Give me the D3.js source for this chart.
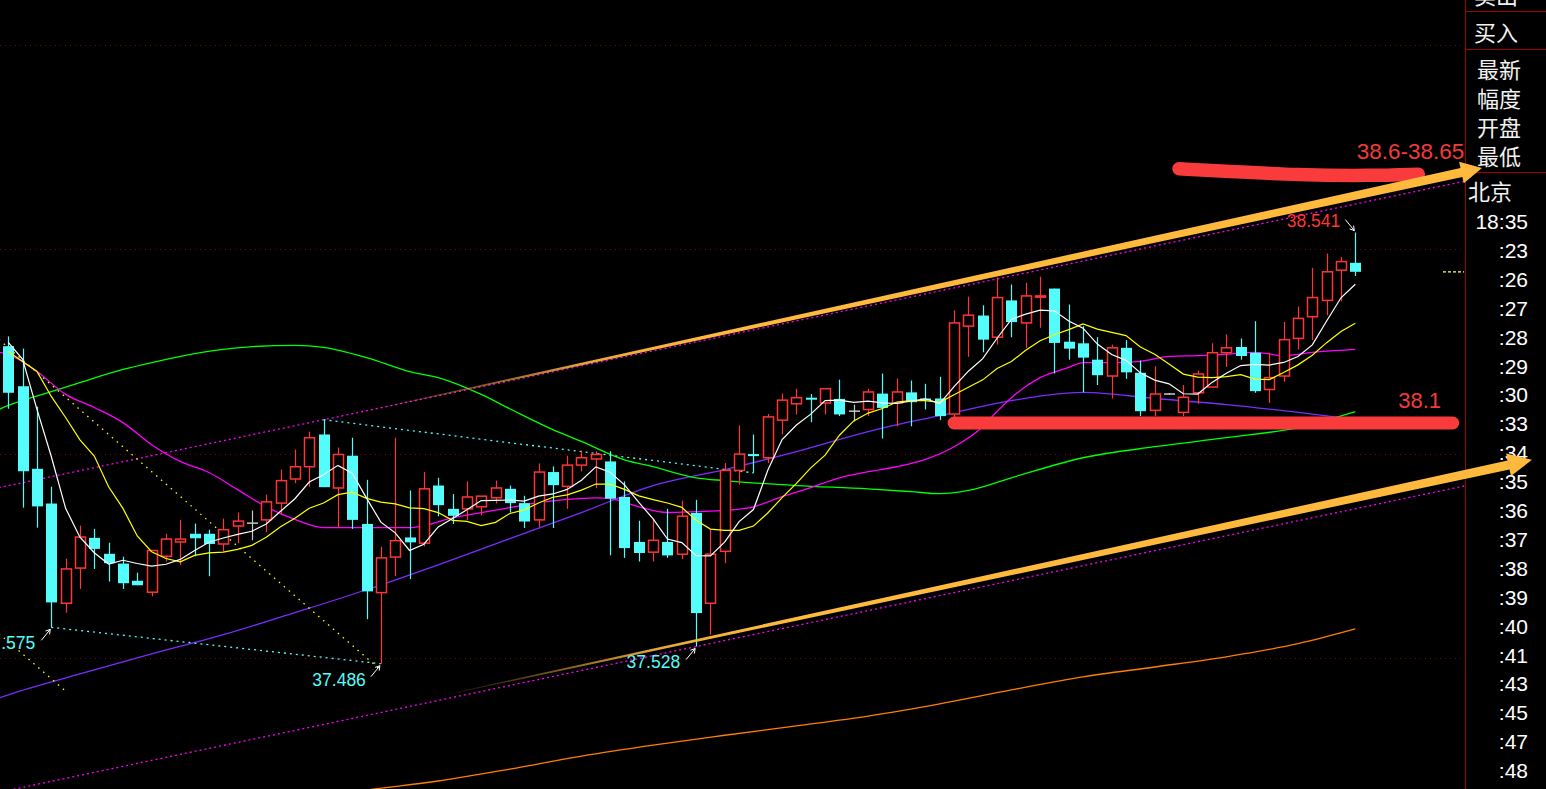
<!DOCTYPE html>
<html><head><meta charset="utf-8">
<script src="https://cdn.jsdelivr.net/npm/d3@7"></script>
<style>html,body{margin:0;padding:0;background:#000;overflow:hidden;}svg{display:block;}</style>
</head><body>
<svg id="c" width="1546" height="789"></svg>
<script>
// ---------- data (prices) ----------
const open  = [38.263,38.165,37.963,37.878,37.634,37.720,37.794,37.755,37.731,37.689,37.661,37.749,37.784,37.804,37.804,37.779,37.823,37.830,37.838,37.879,37.938,37.968,38.047,37.916,37.995,37.828,37.660,37.747,37.795,37.781,37.922,37.865,37.865,37.870,37.892,37.914,37.879,37.838,37.955,37.920,37.972,37.987,37.981,37.894,37.784,37.759,37.784,37.754,37.855,37.634,37.761,37.959,37.999,37.990,38.082,38.122,38.137,38.124,38.134,38.104,38.108,38.147,38.124,38.150,38.135,38.135,38.097,38.312,38.338,38.285,38.375,38.320,38.383,38.404,38.274,38.270,38.230,38.190,38.259,38.198,38.106,38.146,38.101,38.149,38.163,38.247,38.261,38.247,38.157,38.190,38.282,38.335,38.375,38.449,38.467];
const high  = [38.287,38.257,38.115,37.919,37.743,37.824,37.816,37.782,37.748,37.709,37.763,37.804,37.838,37.829,37.814,37.841,37.856,37.861,37.900,37.961,38.010,38.054,38.083,38.015,38.039,37.936,37.772,38.039,37.910,37.955,37.941,37.901,37.932,37.896,37.934,37.922,37.897,37.976,37.969,37.995,38.008,38.006,38.006,37.932,37.836,37.840,37.865,37.885,37.887,37.816,37.977,38.069,38.047,38.097,38.147,38.159,38.146,38.159,38.181,38.120,38.159,38.196,38.184,38.179,38.171,38.188,38.351,38.384,38.363,38.431,38.414,38.418,38.433,38.404,38.365,38.312,38.285,38.267,38.278,38.228,38.214,38.148,38.168,38.204,38.270,38.292,38.282,38.324,38.247,38.322,38.360,38.455,38.490,38.481,38.541];
const low   = [38.110,37.868,37.819,37.575,37.611,37.669,37.718,37.687,37.669,37.678,37.651,37.736,37.727,37.749,37.700,37.761,37.781,37.788,37.808,37.851,37.928,37.919,37.918,37.818,37.816,37.595,37.486,37.700,37.693,37.773,37.847,37.828,37.838,37.849,37.878,37.856,37.818,37.821,37.818,37.865,37.957,37.916,37.751,37.745,37.736,37.736,37.745,37.742,37.528,37.557,37.732,37.924,37.953,37.977,38.047,38.096,38.077,38.096,38.092,38.079,38.092,38.037,38.067,38.067,38.108,38.082,38.083,38.237,38.248,38.267,38.285,38.259,38.308,38.196,38.230,38.150,38.168,38.135,38.183,38.092,38.092,38.144,38.092,38.122,38.163,38.212,38.230,38.149,38.124,38.176,38.255,38.278,38.339,38.373,38.435];
const close = [38.149,37.957,37.871,37.636,37.718,37.796,37.767,37.732,37.683,37.678,37.763,37.791,37.791,37.793,37.779,37.814,37.835,37.830,37.882,37.934,37.968,38.039,37.918,37.998,37.838,37.663,37.745,37.787,37.783,37.914,37.874,37.848,37.894,37.896,37.916,37.879,37.834,37.955,37.923,37.972,37.990,37.998,37.890,37.769,37.757,37.788,37.751,37.847,37.610,37.754,37.959,37.999,37.994,38.090,38.131,38.137,38.132,38.159,38.096,38.104,38.151,38.112,38.151,38.126,38.132,38.092,38.320,38.339,38.279,38.382,38.322,38.386,38.386,38.271,38.257,38.235,38.192,38.259,38.199,38.104,38.146,38.146,38.138,38.195,38.247,38.259,38.239,38.153,38.186,38.279,38.331,38.382,38.445,38.470,38.445];
// closes of the 9 bars before the visible window (estimated from the MA5 / MA10 lines)
const prevCloses = [38.202,38.116,38.248,38.233,38.341,38.165,38.484,38.212,38.352];

// longer moving averages: [bar index, price]
const maMagenta = [[-1,38.250],[0,38.243],[2,38.201],[4,38.145],[6,38.113],[8,38.076],[10,38.022],[12,37.981],[14,37.954],[16,37.912],[18,37.870],[20,37.839],[22,37.819],[25,37.819],[28,37.819],[29,37.824],[31,37.843],[33,37.856],[35,37.868],[37,37.880],[39,37.888],[41,37.892],[42,37.890],[44,37.870],[46,37.856],[48,37.858],[50,37.861],[52,37.870],[54,37.895],[56,37.917],[58,37.941],[60,37.956],[62,37.968],[64,37.986],[66,38.017],[68,38.066],[69,38.103],[70,38.137],[72,38.186],[74,38.211],[75,38.223],[77,38.223],[79,38.226],[81,38.238],[83,38.240],[85,38.243],[87,38.248],[89,38.240],[91,38.248],[93,38.253],[94,38.255]];
const maGreen = [[-1,38.103],[0,38.118],[3,38.152],[5,38.174],[8,38.206],[10,38.223],[13,38.245],[15,38.255],[17,38.262],[20,38.265],[22,38.260],[25,38.235],[28,38.201],[30,38.186],[33,38.145],[35,38.110],[38,38.059],[40,38.030],[43,37.985],[45,37.968],[48,37.941],[50,37.934],[55,37.922],[60,37.914],[63,37.907],[65,37.902],[67,37.910],[70,37.941],[75,37.990],[80,38.017],[85,38.039],[90,38.064],[94,38.103]];
const maPurple = [[-1,37.398],[0,37.410],[5,37.461],[10,37.510],[15,37.557],[20,37.611],[25,37.667],[30,37.728],[35,37.792],[40,37.856],[45,37.922],[50,37.961],[55,38.005],[60,38.054],[65,38.093],[70,38.130],[75,38.150],[80,38.135],[85,38.120],[90,38.101],[94,38.084]];
const maOrange = [[18,37.140],[25,37.177],[30,37.199],[35,37.228],[40,37.260],[45,37.287],[50,37.311],[55,37.334],[60,37.358],[65,37.388],[70,37.422],[75,37.454],[80,37.478],[85,37.503],[90,37.535],[94,37.571]];

const gridPrices = [37.5, 38.0, 38.5, 39.0];
const channelSlope = 0.00733;          // price per bar
const panelLabels = ["卖出","买入","最新","幅度","开盘","最低","北京"];
const timeLabels = ["18:35",":23",":26",":27",":28",":29",":30",":33",":34",":35",":36",":37",":38",":39",":40",":41",":43",":45",":47",":48"];
// hand-drawn marks: [bar index, price]
const upperArrow = [[24.33,38.100],[102.84,38.699]];
const lowerArrow = [[29.85,37.405],[106.33,37.985]];
const redStrokeTop = [[81.7,38.697],[85,38.691],[90,38.682],[95,38.680],[98.4,38.684]];
const redStrokeLow = [[66.0,38.075],[100.8,38.075]];
const notes = [{t:"38.6-38.65", i:94.1, p:38.72}, {t:"38.1", i:97.0, p:38.112}];

// ---------- scales ----------
const svg = d3.select('#c');
const PR = 1465.5;
const x = d3.scaleLinear().domain([0,94]).range([8.3,1355.3]);
const y = d3.scaleLinear().domain([37.5,39.0]).range([658,45]);
const NUM = '"Liberation Sans", Arial, sans-serif';
const CJK = '"Noto Sans CJK SC", "Noto Sans", sans-serif';
const CYAN='#54fcfc', RED='#ff3434', MAG='#ff00ff';

svg.append('rect').attr('width',1546).attr('height',789).attr('fill','#000');
const defs = svg.append('defs');
defs.append('clipPath').attr('id','plot').append('rect').attr('x',0).attr('y',0).attr('width',PR).attr('height',789);
const plot = svg.append('g').attr('clip-path','url(#plot)');

// grid
plot.selectAll('line.grid').data(gridPrices).join('line')
  .attr('x1',0).attr('x2',PR).attr('y1',d=>Math.round(y(d))+0.5).attr('y2',d=>Math.round(y(d))+0.5)
  .attr('stroke','#8a0000').attr('stroke-dasharray','1,4');

// long MAs (below candles)
const lc = d3.line().x(d=>x(d[0])).y(d=>y(d[1])).curve(d3.curveMonotoneX);
[[maOrange,'#ff7f00'],[maPurple,'#7b2cff'],[maGreen,'#00ff00'],[maMagenta,MAG]].forEach(([d,c])=>{
  plot.append('path').attr('d',lc(d)).attr('fill','none').attr('stroke',c).attr('stroke-width',1.3);
});

// channel lines (pink dotted)
const ll = d3.line().x(d=>x(d[0])).y(d=>y(d[1]));
function chan(i0,p0){ return [[-1,p0-(i0+1)*channelSlope],[102,p0+(102-i0)*channelSlope]]; }
plot.append('path').attr('d',ll(chan(22,high[22]))).attr('stroke',MAG).attr('stroke-width',1.3).attr('stroke-dasharray','2,3').attr('fill','none');
plot.append('path').attr('d',ll(chan(48,low[48]))).attr('stroke',MAG).attr('stroke-width',1.3).attr('stroke-dasharray','2,3').attr('fill','none');
// cyan dotted
[[[3,low[3]],[26,low[26]]],[[22,high[22]],[52,low[52]]]].forEach(seg=>{
  plot.append('path').attr('d',ll(seg)).attr('stroke',CYAN).attr('stroke-width',1.3).attr('stroke-dasharray','2,4').attr('fill','none');
});
// yellow dotted
[[[-1,38.29],[26,37.47]],[[-1,37.57],[3.9,37.422]]].forEach(seg=>{
  plot.append('path').attr('d',ll(seg)).attr('stroke','#ffff00').attr('stroke-width',1.3).attr('stroke-dasharray','1.5,5').attr('fill','none');
});

// candles
const idx = d3.range(close.length);
const cg = plot.append('g');
idx.forEach(i=>{
  const cx = Math.round(x(i))+0.5;
  const o=open[i], c=close[i];
  const col = c>o ? RED : (c<o ? CYAN : '#c8c8c8');
  cg.append('line').attr('x1',cx).attr('x2',cx).attr('y1',y(high[i])).attr('y2',y(low[i])).attr('stroke',col).attr('stroke-width',1.2);
  const top=y(Math.max(o,c)), bot=y(Math.min(o,c));
  if (c>o) {
    cg.append('rect').attr('x',cx-5).attr('y',top).attr('width',10).attr('height',Math.max(1,bot-top))
      .attr('fill','#000').attr('stroke',RED).attr('stroke-width',1.5);
  } else if (c<o) {
    cg.append('rect').attr('x',cx-5.5).attr('y',top).attr('width',11).attr('height',Math.max(1.5,bot-top)).attr('fill',CYAN);
  } else {
    cg.append('line').attr('x1',cx-5.5).attr('x2',cx+5.5).attr('y1',top).attr('y2',top).attr('stroke',col).attr('stroke-width',1.5);
  }
});

// MA5 / MA10 from closes
const allC = prevCloses.concat(close), off = prevCloses.length;
const ma = n => idx.map(i=>[i, d3.mean(allC.slice(i+off-n+1, i+off+1))]);
const lin = d3.line().x(d=>x(d[0])).y(d=>y(d[1]));
plot.append('path').attr('d',lin(ma(10))).attr('fill','none').attr('stroke','#ffff00').attr('stroke-width',1.2);
plot.append('path').attr('d',lin(ma(5))).attr('fill','none').attr('stroke','#ffffff').attr('stroke-width',1.2);

// current price marker
svg.append('line').attr('x1',1443).attr('x2',1464).attr('y1',y(close[94])).attr('y2',y(close[94]))
  .attr('stroke','#ffff80').attr('stroke-dasharray','3,2').attr('stroke-width',1.2);

// extreme labels with little arrows
function tag(i,p,txt,col,dx,dy,up){
  const tx=x(i), ty=y(p);
  const g=plot.append('g');
  const sy = up ? 1 : -1;
  const ax0=tx-10, ay0=ty+sy*13, ax1=tx-1, ay1=ty+sy*2;
  g.append('line').attr('x1',ax0).attr('y1',ay0).attr('x2',ax1).attr('y2',ay1).attr('stroke','#fff').attr('stroke-width',1);
  const a=Math.atan2(ay1-ay0,ax1-ax0);
  [a+2.6,a-2.6].forEach(b=>g.append('line').attr('x1',ax1).attr('y1',ay1).attr('x2',ax1+5*Math.cos(b)).attr('y2',ay1+5*Math.sin(b)).attr('stroke','#fff').attr('stroke-width',1));
  g.append('text').attr('x',tx+dx).attr('y',ty+dy).attr('text-anchor','end').attr('fill',col)
    .attr('font-family',NUM).attr('font-size',17.5).text(txt);
}
tag(3,low[3],'.575',CYAN,-16,22,true);
tag(26,low[26],low[26].toFixed(3),CYAN,-15,22,true);
tag(48,low[48],low[48].toFixed(3),CYAN,-16,21,true);
tag(94,high[94],high[94].toFixed(3),RED,-15,-6,false);

// ---------- right panel ----------
const panel = svg.append('g');
panel.append('line').attr('x1',PR).attr('x2',PR).attr('y1',0).attr('y2',789).attr('stroke','#a00000');
[11.5,49.5,172.5].forEach(v=>panel.append('line').attr('x1',PR).attr('x2',1546).attr('y1',v).attr('y2',v).attr('stroke','#a00000'));
const cjkPos = [[1474,4],[1474,41],[1477,78],[1477,107],[1477,136],[1477,165],[1468,200]];
panelLabels.forEach((t,k)=>panel.append('text').attr('x',cjkPos[k][0]).attr('y',cjkPos[k][1]).attr('fill','#f2f2f2')
  .attr('font-family',CJK).attr('font-size',22).text(t));
timeLabels.forEach((t,k)=>panel.append('text').attr('x',1528).attr('y',229+k*28.9).attr('text-anchor','end')
  .attr('fill','#fff').attr('font-family',NUM).attr('font-size',21).text(t));

// ---------- hand-drawn overlays ----------
const ov = svg.append('g');
const lb = d3.line().x(d=>x(d[0])).y(d=>y(d[1])).curve(d3.curveBasis);
ov.append('path').attr('d',lb(redStrokeLow)).attr('stroke','#fa3b3b').attr('stroke-width',13).attr('stroke-linecap','round').attr('fill','none');
ov.append('path').attr('d',lb(redStrokeTop)).attr('stroke','#fa3b3b').attr('stroke-width',13.5).attr('stroke-linecap','round').attr('fill','none');

function brushArrow(seg,w0,w1,headLen,headHalf,id){
  const x0=x(seg[0][0]), y0=y(seg[0][1]), x1=x(seg[1][0]), y1=y(seg[1][1]);
  const dx=x1-x0, dy=y1-y0, L=Math.hypot(dx,dy), ux=dx/L, uy=dy/L, nx=-uy, ny=ux;
  const bx=x1-ux*headLen, by=y1-uy*headLen;
  const pts=[[x0+nx*w0,y0+ny*w0],[bx+nx*w1,by+ny*w1],[bx+nx*headHalf,by+ny*headHalf],[x1,y1],
             [bx-nx*headHalf,by-ny*headHalf],[bx-nx*w1,by-ny*w1],[x0-nx*w0,y0-ny*w0]];
  const gr=defs.append('linearGradient').attr('id',id).attr('gradientUnits','userSpaceOnUse')
    .attr('x1',x0).attr('y1',y0).attr('x2',x1).attr('y2',y1);
  [[0,0],[0.08,0.35],[0.2,0.9],[0.3,1],[1,1]].forEach(([o,a])=>gr.append('stop').attr('offset',o).attr('stop-color','#ffb93c').attr('stop-opacity',a));
  ov.append('path').attr('d','M'+pts.map(p=>p[0].toFixed(1)+','+p[1].toFixed(1)).join('L')+'Z').attr('fill',`url(#${id})`);
}
brushArrow(upperArrow,0.4,4.6,21,11,'ga');
brushArrow(lowerArrow,0.4,4.6,24,11.5,'gb');

notes.forEach(n=>ov.append('text').attr('x',x(n.i)).attr('y',y(n.p)).attr('fill','#f23c3c')
  .attr('font-family',NUM).attr('font-size',n.t.length>5?22.5:22).text(n.t));
</script>
</body></html>
